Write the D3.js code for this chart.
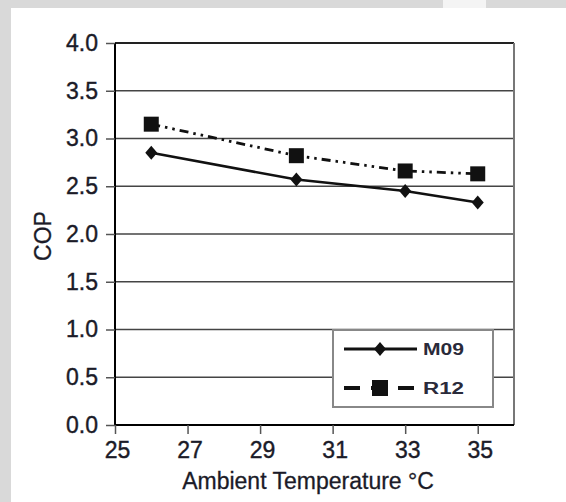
<!DOCTYPE html>
<html>
<head>
<meta charset="utf-8">
<script src="https://cdn.jsdelivr.net/npm/d3@7"></script>
<style>
  body { margin: 0; background: #fff; }
  text { font-family: "Liberation Sans", Arial, sans-serif; }
</style>
</head>
<body>
<script>
const W = 566, H = 502;

// data
const temps = [26, 30, 33, 35];
const m09 = [2.85, 2.57, 2.45, 2.33];
const r12 = [3.15, 2.82, 2.66, 2.63];
const xTicks = [25, 27, 29, 31, 33, 35];
const yTicks = [0, 0.5, 1.0, 1.5, 2.0, 2.5, 3.0, 3.5, 4.0];
const seriesNames = ["M09", "R12"];

const plotL = 115, plotR = 514, plotT = 43, plotB = 425;
const textCol = "#1b1b28";

const svg = d3.select("body").append("svg")
    .attr("width", W)
    .attr("height", H);

// grey page border around the white panel
svg.append("rect").attr("x", 0).attr("y", 0).attr("width", W).attr("height", H).attr("fill", "#d9d9d9");
svg.append("rect").attr("x", 11).attr("y", 8).attr("width", W - 11).attr("height", H - 8).attr("fill", "#fff");
svg.append("rect").attr("x", 443).attr("y", 0).attr("width", 43).attr("height", 8).attr("fill", "#f4f4f4");

const x = d3.scaleLinear().domain([25, 36]).range([plotL, plotR]);
const y = d3.scaleLinear().domain([0, 4]).range([plotB, plotT]);

// horizontal grid
svg.append("g")
    .selectAll("line")
    .data(yTicks.filter(d => d > 0 && d < 4))
    .enter()
    .append("line")
    .attr("x1", plotL).attr("x2", plotR)
    .attr("y1", d => y(d)).attr("y2", d => y(d))
    .attr("stroke", "#444")
    .attr("stroke-width", 1.4);

// frame top + right
svg.append("line").attr("x1", plotL).attr("x2", plotR).attr("y1", plotT).attr("y2", plotT)
    .attr("stroke", "#222").attr("stroke-width", 2);
svg.append("line").attr("x1", plotR).attr("x2", plotR).attr("y1", plotT).attr("y2", plotB)
    .attr("stroke", "#777").attr("stroke-width", 2);

// axes
const yAxis = svg.append("g")
    .attr("transform", "translate(" + plotL + ",0)")
    .call(d3.axisLeft(y).tickValues(yTicks).tickFormat(d3.format(".1f")).tickSize(9).tickPadding(8));

const xAxis = svg.append("g")
    .attr("transform", "translate(0," + plotB + ")")
    .call(d3.axisBottom(x).tickValues(xTicks).tickSize(9).tickPadding(8));

[yAxis, xAxis].forEach(function (a) {
    a.select(".domain").attr("stroke", "#000").attr("stroke-width", 2);
    a.selectAll(".tick line").attr("stroke", "#555").attr("stroke-width", 1.5);
    a.selectAll(".tick text")
        .attr("font-size", 23)
        .attr("font-family", "Liberation Sans, Arial, sans-serif")
        .attr("fill", textCol)
        .attr("stroke", textCol)
        .attr("stroke-width", 0.4);
});
xAxis.selectAll(".tick text").attr("dx", 2);
xAxis.select(".domain").attr("d", "M" + plotL + ",0H" + plotR);
yAxis.select(".domain").attr("d", "M0," + plotB + "V" + plotT);

// axis titles
svg.append("text")
    .attr("x", 308).attr("y", 489)
    .attr("text-anchor", "middle")
    .attr("font-size", 23)
    .attr("fill", textCol)
    .attr("stroke", textCol)
    .attr("stroke-width", 0.3)
    .text("Ambient Temperature \u00B0C");

svg.append("text")
    .attr("transform", "translate(51,236) rotate(-90)")
    .attr("text-anchor", "middle")
    .attr("font-size", 23)
    .attr("fill", textCol)
    .attr("stroke", textCol)
    .attr("stroke-width", 0.3)
    .text("COP");

// lines
const m09Data = temps.map((t, i) => ({ t: t, v: m09[i] }));
const r12Data = temps.map((t, i) => ({ t: t, v: r12[i] }));
const line = d3.line().x(d => x(d.t)).y(d => y(d.v));

svg.append("path")
    .datum(r12Data)
    .attr("d", line)
    .attr("fill", "none")
    .attr("stroke", "#111")
    .attr("stroke-width", 2.8)
    .attr("stroke-dasharray", "9,5,2.5,5,2.5,5");

svg.append("path")
    .datum(m09Data)
    .attr("d", line)
    .attr("fill", "none")
    .attr("stroke", "#111")
    .attr("stroke-width", 2.5);

const diamond = "M0,-7L6,0L0,7L-6,0Z";

svg.selectAll(".m09pt")
    .data(m09Data)
    .enter()
    .append("path")
    .attr("class", "m09pt")
    .attr("d", diamond)
    .attr("transform", d => "translate(" + x(d.t) + "," + y(d.v) + ")")
    .attr("fill", "#111");

svg.selectAll(".r12pt")
    .data(r12Data)
    .enter()
    .append("rect")
    .attr("class", "r12pt")
    .attr("x", d => x(d.t) - 7.5)
    .attr("y", d => y(d.v) - 7.5)
    .attr("width", 15)
    .attr("height", 15)
    .attr("fill", "#111");

// legend
const lg = svg.append("g").attr("transform", "translate(333,330)");
lg.append("rect")
    .attr("width", 160).attr("height", 77)
    .attr("fill", "#fff")
    .attr("stroke", "#888")
    .attr("stroke-width", 2);

lg.append("line").attr("x1", 11).attr("x2", 84).attr("y1", 19).attr("y2", 19)
    .attr("stroke", "#111").attr("stroke-width", 2.8);
lg.append("path").attr("d", diamond).attr("transform", "translate(47,19)").attr("fill", "#111");

lg.append("line").attr("x1", 11).attr("x2", 82).attr("y1", 58).attr("y2", 58)
    .attr("stroke", "#111").attr("stroke-width", 3.8)
    .attr("stroke-dasharray", "16,11");
lg.append("rect").attr("x", 39).attr("y", 50).attr("width", 16).attr("height", 16).attr("fill", "#111");

lg.selectAll(".lgtext")
    .data(seriesNames)
    .enter()
    .append("text")
    .attr("class", "lgtext")
    .attr("x", 90)
    .attr("y", (d, i) => 25 + i * 39)
    .attr("font-size", 16)
    .attr("font-weight", "bold")
    .attr("textLength", 41)
    .attr("lengthAdjust", "spacingAndGlyphs")
    .attr("fill", "#2a2a3a")
    .text(d => d);
</script>
</body>
</html>
